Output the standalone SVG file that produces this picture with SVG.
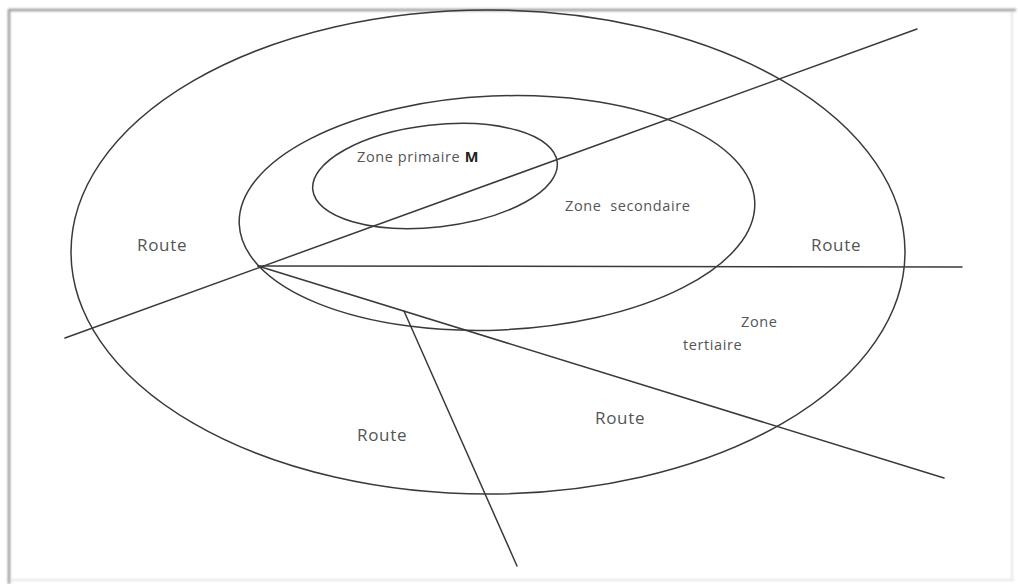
<svg xmlns="http://www.w3.org/2000/svg" width="1018" height="584" viewBox="0 0 1018 584">
  <defs>
    <filter id="soft" x="-5%" y="-5%" width="110%" height="110%">
      <feGaussianBlur stdDeviation="1.2"/>
    </filter>
  </defs>
  <style>
    .zone { fill: none; stroke: #3a3a3a; stroke-width: 1.5; }
    .road { stroke: #3a3a3a; stroke-width: 1.5; fill: none; stroke-linecap: round; }
    .lbl { font-family: "Open Sans", "Liberation Sans", sans-serif; font-size: 14.5px; letter-spacing: 0.6px; fill: #555; }
    .route { font-family: "Open Sans", "Liberation Sans", sans-serif; font-size: 17px; letter-spacing: 0.7px; fill: #555; }
  </style>

  <rect width="1018" height="584" fill="#ffffff"/>

  <!-- page frame with a light shadow -->
  <g id="frame" filter="url(#soft)">
    <line x1="8" y1="10" x2="1016" y2="10" stroke="#9a9a9a" stroke-width="2.5"/>
    <line x1="9" y1="10" x2="9" y2="584" stroke="#9a9a9a" stroke-width="2.5"/>
    <line x1="1012" y1="12" x2="1012" y2="580" stroke="#e6e6e6" stroke-width="2"/>
    <line x1="10" y1="580" x2="1014" y2="580" stroke="#e6e6e6" stroke-width="2"/>
  </g>

  <!-- concentric zones -->
  <g id="zone-tertiaire">
    <ellipse class="zone" cx="488" cy="252" rx="417" ry="242"/>
  </g>
  <g id="zone-secondaire">
    <ellipse class="zone" cx="497" cy="213" rx="258" ry="117" transform="rotate(-2.5 497 213)"/>
  </g>
  <g id="zone-primaire">
    <ellipse class="zone" cx="435" cy="176" rx="123" ry="51" transform="rotate(-6.5 435 176)"/>
  </g>

  <!-- roads -->
  <g id="roads">
    <line class="road" x1="65" y1="338" x2="917" y2="29"/>
    <line class="road" x1="258" y1="266" x2="962" y2="267"/>
    <line class="road" x1="258" y1="266" x2="944" y2="478"/>
    <line class="road" x1="404" y1="311" x2="517" y2="566"/>
  </g>

  <!-- labels -->
  <g id="labels">
    <text class="lbl" x="357" y="162">Zone primaire <tspan font-weight="bold" fill="#222">M</tspan></text>
    <text class="lbl" x="565" y="211">Zone&#160; secondaire</text>
    <text class="lbl" x="741" y="327">Zone</text>
    <text class="lbl" x="683" y="350">tertiaire</text>
    <text class="route" x="137" y="251">Route</text>
    <text class="route" x="811" y="251">Route</text>
    <text class="route" x="595" y="424">Route</text>
    <text class="route" x="357" y="441">Route</text>
  </g>
</svg>
